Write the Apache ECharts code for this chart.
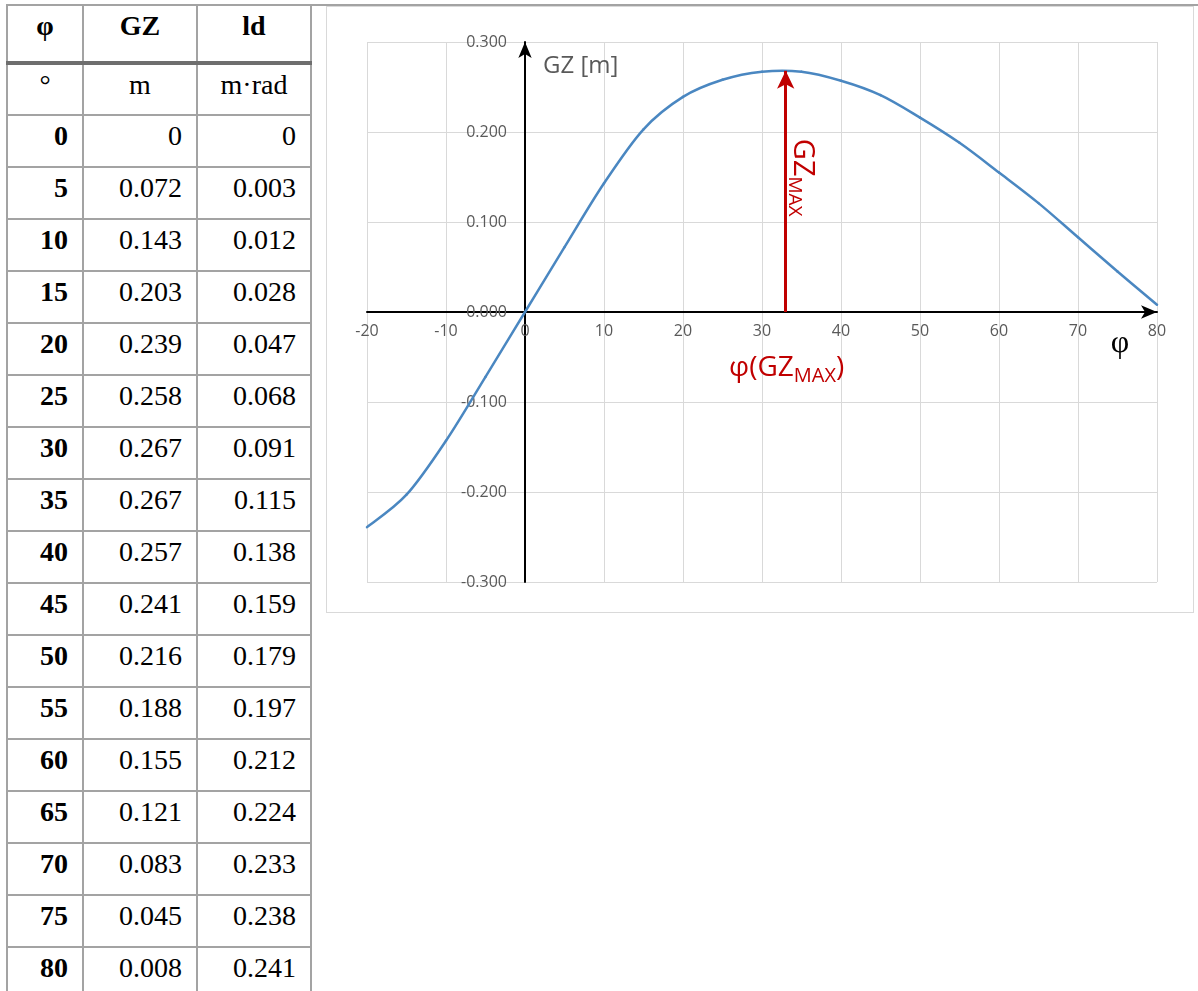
<!DOCTYPE html>
<html>
<head>
<meta charset="utf-8">
<title>GZ-Kurve</title>
<script src="https://cdn.jsdelivr.net/npm/echarts/dist/echarts.min.js"></script>
<style>
  html, body { margin: 0; padding: 0; background: #fff; overflow: hidden; width: 1198px; height: 991px; }
  #tbl {
    position: absolute; left: 6px; top: 4px;
    border-collapse: collapse; table-layout: fixed;
    font-family: "Liberation Serif", "Times New Roman", serif; font-size: 28px; color: #000;
  }
  #tbl td, #tbl th {
    border: 2px solid #a3a3a3; padding: 4px 14px 0 4px; line-height: 31px;
    vertical-align: top; text-align: right; box-sizing: border-box; overflow: hidden; white-space: nowrap;
  }
  #tbl th { font-weight: bold; text-align: center; height: 58px; border-bottom: 4px solid #6e6e6e; padding-right: 4px; }
  #tbl tr.units td { text-align: center; height: 52px; padding-right: 4px; }
  #tbl tr.row td { height: 52px; }
  #tbl tr.row td.phi { font-weight: bold; }
  #topline { position: absolute; left: 310px; top: 4px; width: 888px; height: 2px; background: #a3a3a3; }
  #chart {
    position: absolute; left: 326px; top: 6px; width: 868px; height: 607px;
    border: 1px solid #d9d9d9; box-sizing: border-box;
  }
</style>
</head>
<body>
<table id="tbl">
  <colgroup><col style="width:76px"><col style="width:114px"><col style="width:114px"></colgroup>
  <thead><tr id="head"></tr></thead>
  <tbody id="body"></tbody>
</table>
<div id="topline"></div>
<div id="chart"></div>
<script>
// Table columns
const headers = ['φ', 'GZ', 'ld'];
const units = ['°', 'm', 'm·rad'];
const phi = [0, 5, 10, 15, 20, 25, 30, 35, 40, 45, 50, 55, 60, 65, 70, 75, 80];
const gz = ['0', '0.072', '0.143', '0.203', '0.239', '0.258', '0.267', '0.267', '0.257', '0.241', '0.216', '0.188', '0.155', '0.121', '0.083', '0.045', '0.008'];
const ld = ['0', '0.003', '0.012', '0.028', '0.047', '0.068', '0.091', '0.115', '0.138', '0.159', '0.179', '0.197', '0.212', '0.224', '0.233', '0.238', '0.241'];

// Curve points drawn in the chart (heel angle in degrees, righting lever in m)
const curvePhi = [-20, -15, -10, -5, 0, 5, 10, 15, 20, 25, 30, 35, 40, 45, 50, 55, 60, 65, 70, 75, 80];
const curveGz = [-0.239, -0.203, -0.143, -0.072, 0, 0.072, 0.143, 0.203, 0.239, 0.258, 0.267, 0.267, 0.257, 0.241, 0.216, 0.188, 0.155, 0.121, 0.083, 0.045, 0.008];

// Maximum of the lever curve
const phiMax = 33;
const gzMax = 0.268;

// Axis ranges
const xMin = -20, xMax = 80, xStep = 10;
const yMin = -0.3, yMax = 0.3, yStep = 0.1;

// Build the table
const head = document.getElementById('head');
headers.forEach(h => { const th = document.createElement('th'); th.textContent = h; head.appendChild(th); });
const body = document.getElementById('body');
const ur = document.createElement('tr'); ur.className = 'units';
units.forEach(u => { const td = document.createElement('td'); td.textContent = u; ur.appendChild(td); });
body.appendChild(ur);
phi.forEach((p, i) => {
  const tr = document.createElement('tr'); tr.className = 'row';
  [[String(p), 'phi'], [gz[i], ''], [ld[i], '']].forEach(([t, c]) => {
    const td = document.createElement('td'); td.textContent = t; if (c) td.className = c; tr.appendChild(td);
  });
  body.appendChild(tr);
});

// Chart geometry
const gridLeft = 40, gridTop = 35, gridW = 790, gridH = 540;
// Distance of the zero lines from the grid edges, so the tick labels sit next to the crossing axes
const zeroFromLeft = (0 - xMin) / (xMax - xMin) * gridW;
const zeroFromBottom = (0 - yMin) / (yMax - yMin) * gridH;

const labelFont = '"Open Sans", "Noto Sans", sans-serif';
const blue = '#4a87c1';
const red = '#c00000';

// Smooth curve through the points (cardinal spline, Bezier segment per interval)
function renderCurve(params, api) {
  const i = params.dataIndex;
  const n = curvePhi.length;
  if (i >= n - 1) return null;
  const P = j => { const k = Math.max(0, Math.min(n - 1, j)); return api.coord([curvePhi[k], curveGz[k]]); };
  const p0 = P(i - 1), p1 = P(i), p2 = P(i + 1), p3 = P(i + 2);
  const t = 1 / 6;
  return {
    type: 'bezierCurve',
    shape: {
      x1: p1[0], y1: p1[1], x2: p2[0], y2: p2[1],
      cpx1: p1[0] + (p2[0] - p0[0]) * t, cpy1: p1[1] + (p2[1] - p0[1]) * t,
      cpx2: p2[0] - (p3[0] - p1[0]) * t, cpy2: p2[1] - (p3[1] - p1[1]) * t
    },
    style: { stroke: blue, lineWidth: 2.5, fill: null, lineCap: 'round' }
  };
}

const chart = echarts.init(document.getElementById('chart'), null, { renderer: 'canvas' });
chart.setOption({
  animation: false,
  backgroundColor: '#fff',
  grid: { left: gridLeft, top: gridTop, width: gridW, height: gridH, containLabel: false, outerBoundsMode: 'none' },
  xAxis: {
    type: 'value', min: xMin, max: xMax, interval: xStep,
    axisLine: { onZero: true, lineStyle: { color: '#000', width: 2 }, symbol: ['none', 'arrow'], symbolSize: [10, 16] },
    axisTick: { show: false },
    splitLine: { show: true, lineStyle: { color: '#d9d9d9', width: 1 } },
    axisLabel: { color: '#595959', fontFamily: labelFont, fontSize: 16, margin: 11 - zeroFromBottom, showMinLabel: true, showMaxLabel: true, hideOverlap: false }
  },
  yAxis: {
    type: 'value', min: yMin, max: yMax, interval: yStep,
    axisLine: { onZero: true, lineStyle: { color: '#000', width: 2 }, symbol: ['none', 'arrow'], symbolSize: [10, 16] },
    axisTick: { show: false },
    splitLine: { show: true, lineStyle: { color: '#d9d9d9', width: 1 } },
    axisLabel: { color: '#595959', fontFamily: labelFont, fontSize: 16, margin: 18 - zeroFromLeft, hideOverlap: false, formatter: v => v.toFixed(3) }
  },
  series: [{
    type: 'custom',
    coordinateSystem: 'cartesian2d',
    data: curvePhi.map((p, i) => [p, curveGz[i]]),
    encode: { x: 0, y: 1 },
    renderItem: renderCurve,
    z: 3,
    markLine: {
      silent: true,
      symbol: ['none', 'arrow'],
      symbolSize: [13, 18],
      lineStyle: { color: red, width: 3, type: 'solid' },
      label: { show: false },
      data: [[{ coord: [phiMax, 0] }, { coord: [phiMax, gzMax] }]]
    }
  }]
});

// Text placed relative to the axes
const px = (x, y) => chart.convertToPixel({ gridIndex: 0 }, [x, y]);
const yTop = px(0, yMax);
const xEnd = px(xMax, 0);
const base = px(phiMax, 0);
const tip = px(phiMax, gzMax);
chart.setOption({
  graphic: [
    {
      type: 'text', x: yTop[0] + 18, y: yTop[1] + 24,
      style: { text: 'GZ [m]', fill: '#595959', font: '24px "Open Sans", sans-serif', align: 'left', verticalAlign: 'middle' }
    },
    {
      type: 'text', x: xEnd[0] - 37, y: xEnd[1] + 32,
      style: { text: 'φ', fill: '#000', font: '32px "Liberation Serif", serif', align: 'center', verticalAlign: 'middle' }
    },
    {
      type: 'text', x: base[0] + 1, y: base[1] + 56,
      style: {
        text: '{m|φ(GZ}{s|MAX}{m|)}', align: 'center', verticalAlign: 'middle',
        rich: {
          m: { fill: red, fontSize: 28, fontFamily: labelFont, lineHeight: 36 },
          s: { fill: red, fontSize: 20, fontFamily: labelFont, lineHeight: 16, verticalAlign: 'bottom' }
        }
      }
    },
    {
      type: 'text', x: tip[0] + 17, y: tip[1] + 68, rotation: -Math.PI / 2,
      style: {
        text: '{m|GZ}{s|MAX}', align: 'left', verticalAlign: 'middle',
        rich: {
          m: { fill: red, fontSize: 29, fontFamily: labelFont, lineHeight: 36 },
          s: { fill: red, fontSize: 19, fontFamily: labelFont, lineHeight: 16, verticalAlign: 'bottom' }
        }
      }
    }
  ]
});
</script>
</body>
</html>
